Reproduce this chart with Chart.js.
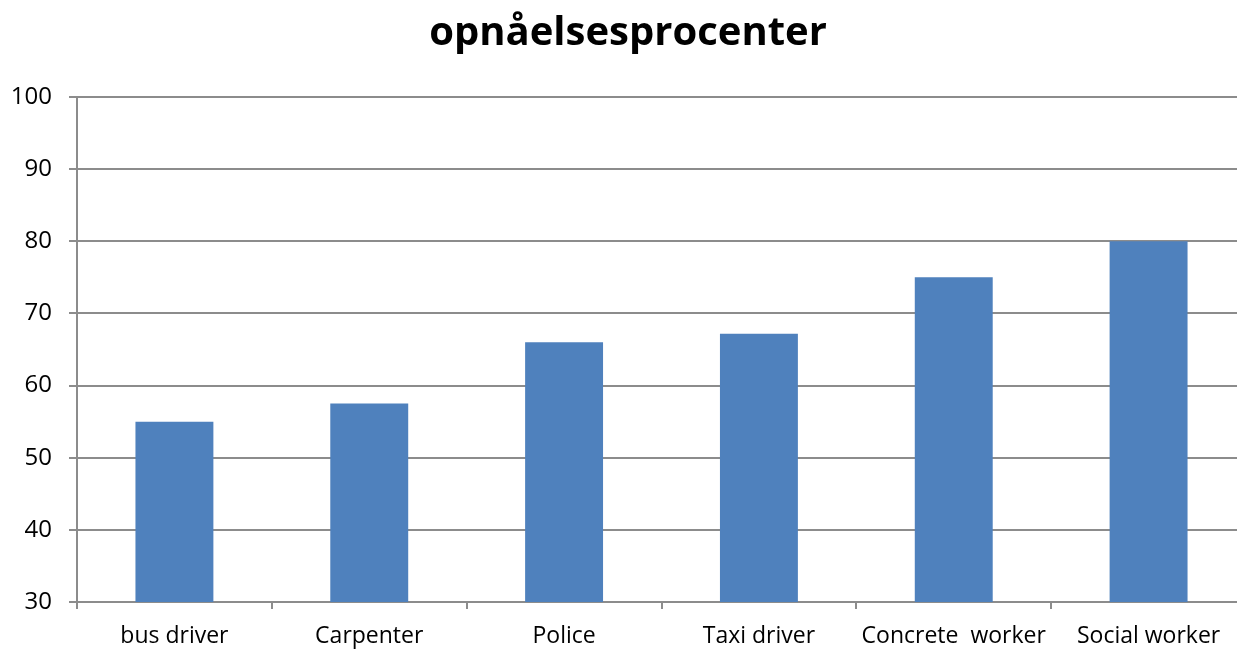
<!DOCTYPE html>
<html>
<head>
<meta charset="utf-8">
<script src="https://cdn.jsdelivr.net/npm/chart.js@4"></script>
<style>
  body { margin: 0; overflow: hidden; background: #fff; }
  #wrap { width: 1246px; height: 651px; }
</style>
</head>
<body>
<div id="wrap"><canvas id="rateChart"></canvas></div>
<script>
// data
const jobs = ['bus driver', 'Carpenter', 'Police', 'Taxi driver', 'Concrete  worker', 'Social worker'];
const rates = [55, 57.5, 66, 67.2, 75, 80];
const yTicks = [30, 40, 50, 60, 70, 80, 90, 100];

const gridGrey = '#8c8c8c';

new Chart(document.getElementById('rateChart'), {
  type: 'bar',
  data: {
    labels: jobs,
    datasets: [{
      label: 'opnåelsesprocenter',
      data: rates,
      backgroundColor: '#4f81bd',
      borderWidth: 0,
      barPercentage: 0.4,
      categoryPercentage: 1
    }]
  },
  options: {
    responsive: true,
    maintainAspectRatio: false,
    animation: false,
    layout: { padding: { left: 10, right: 0, top: 10, bottom: 2 } },
    plugins: {
      legend: { display: false },
      tooltip: { enabled: false },
      title: {
        display: true,
        text: 'opnåelsesprocenter',
        color: '#000',
        font: { family: 'Open Sans', size: 40, weight: 'bold' },
        padding: { top: 0, bottom: 39 }
      }
    },
    scales: {
      x: {
        afterFit: function(scale) { scale.height = 47; },
        grid: {
          offset: true,
          drawOnChartArea: false,
          drawTicks: true,
          tickLength: 7,
          color: gridGrey,
          lineWidth: 2
        },
        border: { color: gridGrey, width: 2 },
        ticks: {
          color: '#000',
          padding: 14,
          maxRotation: 0,
          autoSkip: false,
          font: { family: 'Open Sans', size: 23 }
        }
      },
      y: {
        min: yTicks[0],
        max: yTicks[yTicks.length - 1],
        afterBuildTicks: function(scale) {
          scale.ticks = yTicks.map(v => ({ value: v }));
        },
        afterFit: function(scale) { scale.width = 67; },
        grid: {
          color: gridGrey,
          lineWidth: 2,
          tickLength: 8
        },
        border: { color: gridGrey, width: 2 },
        ticks: {
          color: '#000',
          padding: 17,
          font: { family: 'Open Sans', size: 24 }
        }
      }
    }
  }
});
</script>
</body>
</html>
